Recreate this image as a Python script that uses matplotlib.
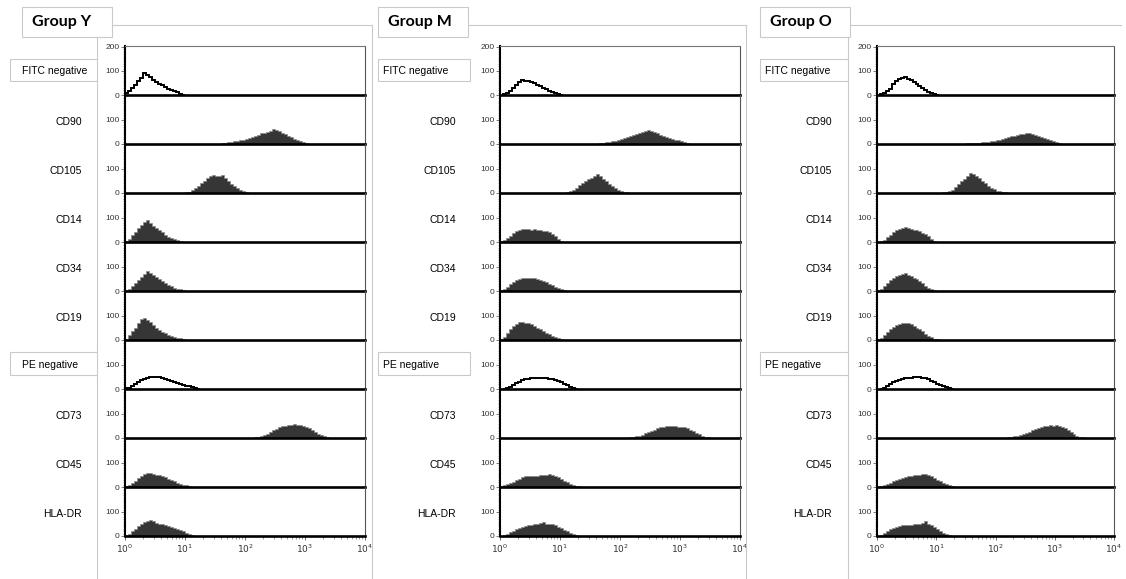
import numpy as np
import matplotlib
matplotlib.use("Agg")
import matplotlib.pyplot as plt
from matplotlib.lines import Line2D
from matplotlib.patches import Rectangle
from matplotlib.ticker import FixedLocator, NullFormatter, NullLocator

plt.rcParams["font.family"] = ["Liberation Sans", "DejaVu Sans"]

W, H = 1126, 579
BIN = 0.05  # histogram bin width in decades

groups = ["Group Y", "Group M", "Group O"]
markers = ["FITC negative", "CD90", "CD105", "CD14", "CD34", "CD19",
           "PE negative", "CD73", "CD45", "HLA-DR"]
controls = ["FITC negative", "PE negative"]
x_tick_labels = [r"$10^{0}$", r"$10^{1}$", r"$10^{2}$", r"$10^{3}$", r"$10^{4}$"]

# Each histogram: (first bin in log10 units, counts per bin)
Y_FITC = (0.00, [8, 18, 30, 42, 58, 72, 92, 82, 74, 64, 55, 47, 40, 34, 27, 22, 18, 12, 6, 2])
Y_CD90 = (1.55, [2, 4, 5, 8, 9, 12, 13, 16, 17, 20, 24, 31, 33, 38, 45, 46, 51, 56, 62, 58,
                 53, 46, 41, 34, 29, 22, 18, 14, 10, 6, 2])
Y_CD105 = (0.85, [1, 1, 2, 3, 6, 12, 20, 30, 41, 52, 63, 70, 75, 71, 70, 74, 62, 50, 38, 28,
                  20, 14, 9, 5, 2])
Y_CD14 = (0.00, [4, 14, 28, 42, 58, 72, 85, 92, 80, 66, 59, 48, 43, 30, 22, 16, 12, 8, 4])
Y_CD34 = (0.00, [3, 10, 20, 32, 45, 60, 72, 82, 74, 67, 58, 51, 42, 33, 24, 19, 14, 10, 7, 4, 2])
Y_CD19 = (0.00, [6, 20, 36, 52, 70, 86, 91, 83, 75, 64, 52, 43, 34, 28, 22, 17, 13, 10, 7, 4, 2, 1])
Y_PE = (0.00, [3, 6, 12, 20, 28, 36, 43, 46, 51, 52, 50, 49, 44, 41, 36, 32, 28, 24, 20, 17,
               14, 11, 8, 5, 2])
Y_CD73 = (1.90, [1, 1, 1, 1, 2, 3, 5, 8, 12, 18, 25, 32, 38, 44, 48, 52, 54, 56, 60, 56,
                 55, 52, 46, 40, 32, 24, 18, 12, 7, 4, 2, 1, 1])
Y_CD45 = (0.00, [4, 10, 18, 26, 36, 46, 54, 58, 59, 56, 52, 48, 44, 40, 34, 28, 24, 18, 14, 10,
                 7, 4, 2, 1])
Y_HLA = (0.00, [4, 10, 20, 30, 40, 50, 58, 63, 66, 62, 56, 52, 48, 45, 40, 36, 32, 28, 24, 20,
                14, 9, 5, 2])

M_FITC = (0.05, [3, 8, 16, 28, 42, 54, 64, 60, 59, 54, 48, 42, 36, 30, 24, 18, 12, 7, 3, 1])
M_CD90 = (1.60, [1, 3, 5, 7, 9, 11, 14, 17, 20, 24, 28, 32, 36, 40, 45, 48, 54, 59, 56, 52,
                 44, 38, 32, 28, 24, 20, 18, 16, 12, 8, 3])
M_CD105 = (0.90, [1, 1, 1, 2, 4, 8, 14, 22, 32, 42, 50, 58, 64, 70, 78, 70, 60, 48, 38, 28,
                  20, 13, 8, 5, 3, 1, 1])
M_CD14 = (0.00, [3, 8, 16, 26, 36, 46, 52, 56, 55, 54, 52, 54, 50, 48, 46, 44, 40, 34, 24, 12, 4])
M_CD34 = (0.00, [3, 8, 18, 28, 38, 46, 52, 54, 55, 54, 54, 53, 50, 46, 42, 36, 30, 24, 18, 12,
                 7, 3, 1])
M_CD19 = (0.00, [4, 14, 28, 44, 58, 68, 74, 77, 72, 71, 66, 58, 50, 44, 38, 30, 24, 18, 12, 7, 4, 2])
M_PE = (0.05, [2, 5, 10, 17, 24, 30, 36, 40, 42, 44, 44, 45, 46, 45, 44, 43, 42, 38, 34, 28,
               22, 16, 10, 6, 2])
M_CD73 = (1.85, [1, 1, 1, 1, 2, 2, 3, 5, 7, 10, 14, 19, 25, 30, 35, 40, 44, 46, 48, 50,
                 51, 48, 47, 46, 44, 40, 34, 28, 22, 16, 10, 6, 4, 2, 1, 1])
M_CD45 = (0.00, [3, 7, 12, 17, 22, 28, 34, 40, 44, 46, 47, 46, 46, 48, 50, 52, 55, 52, 46, 40,
                 34, 26, 20, 14, 9, 6, 3, 2, 1])
M_HLA = (0.00, [2, 5, 10, 16, 22, 28, 34, 38, 42, 44, 46, 48, 50, 54, 58, 52, 50, 48, 44, 38,
                32, 26, 20, 14, 9, 5, 2])

O_FITC = (0.05, [3, 8, 16, 26, 44, 60, 68, 72, 74, 68, 62, 54, 46, 38, 30, 22, 14, 8, 3, 1])
O_CD90 = (1.00, [1, 0, 1, 0, 1, 1, 1, 2, 2, 2, 3, 3, 4, 5, 6, 8, 9, 10, 12, 14,
                 16, 18, 21, 24, 28, 32, 35, 38, 40, 42, 44, 45, 42, 38, 34, 30, 25, 20, 16, 12,
                 8, 4, 1])
O_CD105 = (0.90, [1, 1, 1, 2, 3, 5, 8, 14, 24, 36, 48, 60, 70, 84, 78, 70, 64, 52, 40, 30,
                  22, 15, 10, 7, 5, 3, 2, 1])
O_CD14 = (0.05, [3, 10, 20, 30, 40, 48, 54, 58, 61, 58, 56, 52, 48, 44, 38, 32, 24, 14, 5])
O_CD34 = (0.00, [3, 10, 22, 34, 46, 56, 64, 68, 72, 76, 68, 62, 56, 50, 42, 32, 22, 14, 8, 4, 1])
O_CD19 = (0.00, [3, 10, 20, 32, 44, 56, 64, 68, 70, 72, 70, 66, 60, 52, 44, 36, 26, 18, 11, 6,
                 3, 2, 1])
O_PE = (0.05, [2, 6, 12, 20, 28, 34, 38, 42, 44, 46, 47, 48, 50, 48, 46, 44, 40, 34, 28, 22,
               16, 11, 7, 3, 1])
O_CD73 = (1.70, [1, 0, 1, 0, 1, 1, 1, 1, 2, 2, 3, 5, 7, 9, 12, 16, 20, 26, 32, 36,
                 40, 44, 48, 52, 55, 52, 54, 50, 46, 40, 32, 24, 16, 10, 6, 3, 2, 1, 1, 1])
O_CD45 = (0.00, [2, 5, 9, 14, 18, 23, 28, 34, 38, 42, 44, 46, 48, 50, 52, 54, 55, 52, 46, 38,
                 30, 24, 18, 12, 7, 4, 2, 1, 1])
O_HLA = (0.00, [2, 6, 12, 20, 28, 34, 38, 42, 44, 44, 46, 46, 48, 50, 52, 56, 62, 52, 44, 36,
                28, 20, 13, 7, 3, 1])

histograms = {
    "Group Y": [Y_FITC, Y_CD90, Y_CD105, Y_CD14, Y_CD34, Y_CD19, Y_PE, Y_CD73, Y_CD45, Y_HLA],
    "Group M": [M_FITC, M_CD90, M_CD105, M_CD14, M_CD34, M_CD19, M_PE, M_CD73, M_CD45, M_HLA],
    "Group O": [O_FITC, O_CD90, O_CD105, O_CD14, O_CD34, O_CD19, O_PE, O_CD73, O_CD45, O_HLA],
}

# ---------------------------------------------------------------- layout (pixels)
panel_left = {"Group Y": 125, "Group M": 500, "Group O": 877}
panel_right = {"Group Y": 365, "Group M": 740, "Group O": 1114}
label_right = {"Group Y": 82, "Group M": 456, "Group O": 832}
box_left = {"Group Y": 10, "Group M": 378, "Group O": 760}
box_right = {"Group Y": 97, "Group M": 470, "Group O": 848}
tab_left = {"Group Y": 22, "Group M": 378, "Group O": 760}
tab_right = {"Group Y": 112, "Group M": 468, "Group O": 850}
frame_right = {"Group Y": 372, "Group M": 746, "Group O": None}
TOP = 46
PANEL_H = 49

fig = plt.figure(figsize=(W / 100, H / 100), dpi=100)
fig.patch.set_facecolor("white")

UI = "#c9c9c9"


def fx(px):
    return px / W


def fy(py):
    return 1 - py / H


def line(x0, y0, x1, y1, color=UI, lw=0.8):
    fig.add_artist(Line2D([fx(x0), fx(x1)], [fy(y0), fy(y1)], color=color, lw=lw,
                          transform=fig.transFigure))


def box(x0, y0, x1, y1, edge=UI, face="white"):
    fig.add_artist(Rectangle((fx(x0), fy(y1)), fx(x1) - fx(x0), fy(y0) - fy(y1),
                             transform=fig.transFigure, facecolor=face, edgecolor=edge,
                             lw=0.8))


for g in groups:
    L, R = panel_left[g], panel_right[g]

    # tab header and frame lines
    box(tab_left[g], 7, tab_right[g], 37)
    fig.text(fx(tab_left[g] + 10), fy(22), g, fontsize=11.5, fontweight="bold",
             family=["Lato", "DejaVu Sans"], ha="left", va="center", color="black")
    right_end = frame_right[g] if frame_right[g] else 1121
    line(tab_right[g], 25, right_end, 25)
    if frame_right[g]:
        line(frame_right[g], 25, frame_right[g], 579)

    # side boxes for the negative controls
    bl, br = box_left[g], box_right[g]
    box(bl, 59, br, 81)
    box(bl, 352, br, 375)
    if g != "Group M":
        line(br, 37, br, 59)
        line(br, 81, br, 352)
        line(br, 375, br, 579)

    for i, (name, (start, counts)) in enumerate(zip(markers, histograms[g])):
        top = TOP + PANEL_H * i
        ax = fig.add_axes([fx(L), fy(top + PANEL_H), fx(R) - fx(L), PANEL_H / H])
        ax.patch.set_visible(False)
        ax.set_xscale("log")
        ax.set_xlim(1, 1e4)
        ax.set_ylim(0, 204)

        counts = np.asarray(counts, dtype=float)
        edges = 10 ** (start + BIN * np.arange(len(counts) + 1))
        if name in controls:
            ax.stairs(counts, edges, color="black", lw=1.4, baseline=0, zorder=3)
        else:
            ax.stairs(counts, edges, fill=True, facecolor="#363636",
                      edgecolor="#8a8a8a", lw=0.5, zorder=3)

        # spines
        ax.spines["left"].set_linewidth(1.5)
        ax.spines["left"].set_color("black")
        ax.spines["bottom"].set_linewidth(1.9)
        ax.spines["bottom"].set_color("black")
        ax.spines["bottom"].set_zorder(4)
        ax.spines["right"].set_linewidth(0.8)
        ax.spines["right"].set_color("#555555")
        if i == 0:
            ax.spines["top"].set_linewidth(0.8)
            ax.spines["top"].set_color("#777777")
        else:
            ax.spines["top"].set_visible(False)

        # y ticks
        majors = [0, 100, 200] if i == 0 else [0, 100]
        ax.yaxis.set_major_locator(FixedLocator(majors))
        ax.yaxis.set_minor_locator(FixedLocator([v for v in range(10, 201, 10)
                                                 if v not in (100, 200)]))
        ax.tick_params(axis="y", which="major", length=3, width=0.6, color="#666666",
                       labelsize=6, labelcolor="#333333", pad=1)
        ax.tick_params(axis="y", which="minor", length=1.8, width=0.5, color="#888888")

        # x ticks only on the bottom panel
        if i == len(markers) - 1:
            ax.xaxis.set_major_locator(FixedLocator([1, 10, 100, 1000, 10000]))
            ax.set_xticklabels(x_tick_labels)
            minors = [m * 10 ** d for d in range(4) for m in range(2, 10)]
            ax.xaxis.set_minor_locator(FixedLocator(minors))
            ax.xaxis.set_minor_formatter(NullFormatter())
            ax.tick_params(axis="x", which="major", length=3, width=0.6, color="#555555",
                           labelsize=6.5, labelcolor="#333333", pad=2)
            ax.tick_params(axis="x", which="minor", length=2, width=0.5, color="#777777")
        else:
            ax.xaxis.set_major_locator(NullLocator())
            ax.xaxis.set_minor_locator(NullLocator())

        # row label
        ly = top + PANEL_H - 23
        if name in controls:
            fig.text(fx(bl + 12 if g == "Group Y" else bl + 5), fy(ly - 1), name,
                     fontsize=7.5, ha="left", va="center", color="black")
        else:
            fig.text(fx(label_right[g]), fy(ly + 1), name, fontsize=7.5,
                     ha="right", va="center", color="black")

fig.savefig("out.png", dpi=100, facecolor="white")
